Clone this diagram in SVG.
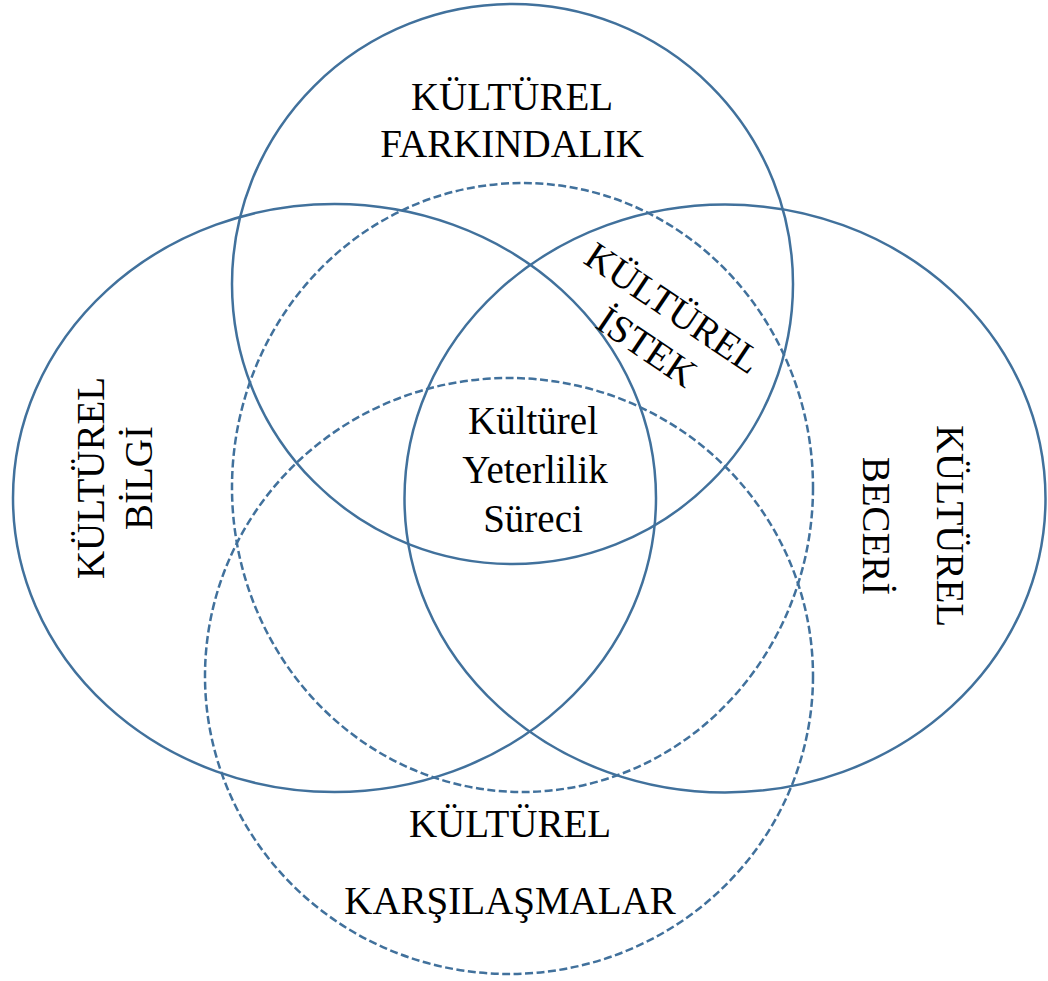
<svg xmlns="http://www.w3.org/2000/svg" width="1048" height="981" viewBox="0 0 1048 981">
<style>
.c{fill:none;stroke:#41719C;stroke-width:2.5}
.d{stroke-dasharray:8 3.5}
.t{font-family:"Liberation Serif","Times New Roman",serif;font-size:39px;fill:#000;text-anchor:middle}
</style>
<rect width="1048" height="981" fill="#fff"/>
<g id="connectors"></g>
<g id="farkindalik">
<ellipse class="c" cx="512.5" cy="284" rx="280.5" ry="280"/>
<text class="t" x="512" y="110">KÜLTÜREL</text>
<text class="t" x="512" y="157">FARKINDALIK</text>
</g>
<g id="bilgi">
<ellipse class="c" cx="334.5" cy="498" rx="321.5" ry="294"/>
<g transform="translate(0,478) rotate(-90)">
<text class="t" x="0" y="104">KÜLTÜREL</text>
<text class="t" x="0" y="152">BİLGİ</text>
</g>
</g>
<g id="beceri">
<ellipse class="c" cx="725" cy="498.5" rx="320.5" ry="294"/>
<g transform="translate(0,526) rotate(90)">
<text class="t" x="0" y="-937">KÜLTÜREL</text>
<text class="t" x="0" y="-863">BECERİ</text>
</g>
</g>
<g id="istek">
<ellipse class="c d" cx="522.5" cy="487.5" rx="290.5" ry="304.5"/>
<g transform="translate(673,308) rotate(34)">
<text class="t" x="0" y="13">KÜLTÜREL</text>
<text class="t" x="0" y="60">İSTEK</text>
</g>
</g>
<g id="karsilasmalar">
<ellipse class="c d" cx="509" cy="676" rx="304" ry="298"/>
<text class="t" x="510" y="837">KÜLTÜREL</text>
<text class="t" x="510" y="914">KARŞILAŞMALAR</text>
</g>
<g id="surec">
<text class="t" x="533" y="434">Kültürel</text>
<text class="t" x="535" y="483">Yeterlilik</text>
<text class="t" x="533" y="532">Süreci</text>
</g>
</svg>
